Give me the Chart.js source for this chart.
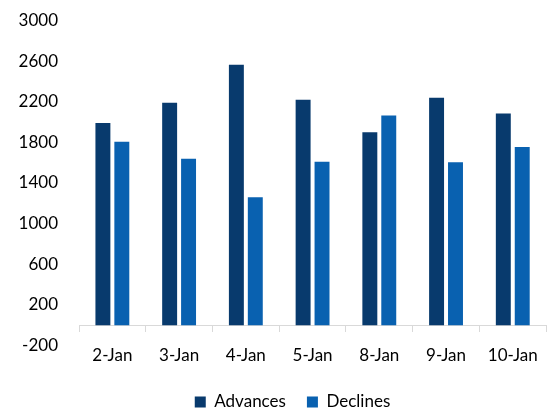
<!DOCTYPE html>
<html><head><meta charset="utf-8">
<script src="https://cdn.jsdelivr.net/npm/chart.js@4"></script>
<style>html,body{margin:0;padding:0;background:#fff;overflow:hidden;}</style>
</head><body>
<canvas id="c" width="552" height="411" style="display:block;width:552px;height:411px"></canvas>
<script>
const categories = ['2-Jan', '3-Jan', '4-Jan', '5-Jan', '8-Jan', '9-Jan', '10-Jan'];
const advances = [1990, 2190, 2565, 2220, 1900, 2240, 2085];
const declines = [1805, 1640, 1260, 1610, 2065, 1605, 1755];
const yTicks = [-200, 200, 600, 1000, 1400, 1800, 2200, 2600, 3000];
const seriesNames = ['Advances', 'Declines'];

Chart.defaults.font.family = 'Lato';
Chart.defaults.font.size = 17;
Chart.defaults.color = '#000';

const legendShift = {
  id: 'legendShift',
  afterLayout(chart) {
    const lg = chart.legend;
    if (lg) { lg.left += 18.5; lg.right += 18.5; }
  }
};

new Chart(document.getElementById('c'), {
  type: 'bar',
  data: {
    labels: categories,
    datasets: [
      { label: seriesNames[0], data: advances, backgroundColor: '#083A6D', borderWidth: 0,
        categoryPercentage: 0.567, barPercentage: 0.79 },
      { label: seriesNames[1], data: declines, backgroundColor: '#0961B0', borderWidth: 0,
        categoryPercentage: 0.567, barPercentage: 0.79 }
    ]
  },
  plugins: [legendShift],
  options: {
    responsive: false,
    animation: false,
    devicePixelRatio: 1,
    layout: { padding: { left: 0, right: 4, top: 20.5, bottom: -9.5 } },
    plugins: {
      tooltip: { enabled: false },
      legend: {
        position: 'bottom',
        title: { display: true, text: '', font: { size: 1, lineHeight: 1 }, padding: { top: 26, bottom: 0 } },
        labels: { boxWidth: 11, boxHeight: 11, padding: 21, color: '#000', font: { size: 17 } }
      }
    },
    scales: {
      x: {
        position: { y: 0 },
        offset: true,
        grid: { offset: true, drawOnChartArea: false, tickLength: 6, color: '#d9d9d9', lineWidth: 1 },
        border: { color: '#d9d9d9', width: 1 },
        ticks: { padding: 14, color: '#000', font: { size: 17 }, maxRotation: 0, autoSkip: false }
      },
      y: {
        min: -200,
        max: 3000,
        grid: { display: false, drawTicks: false },
        border: { display: false },
        ticks: { stepSize: 400, padding: 21, color: '#000', font: { size: 17 }, callback: v => String(v) },
        afterBuildTicks(s) { s.ticks = yTicks.map(v => ({ value: v })); },
        afterFit(s) { s.width = 79; s.paddingTop = 0; s.paddingBottom = 0; }
      }
    }
  }
});
</script>
</body></html>
